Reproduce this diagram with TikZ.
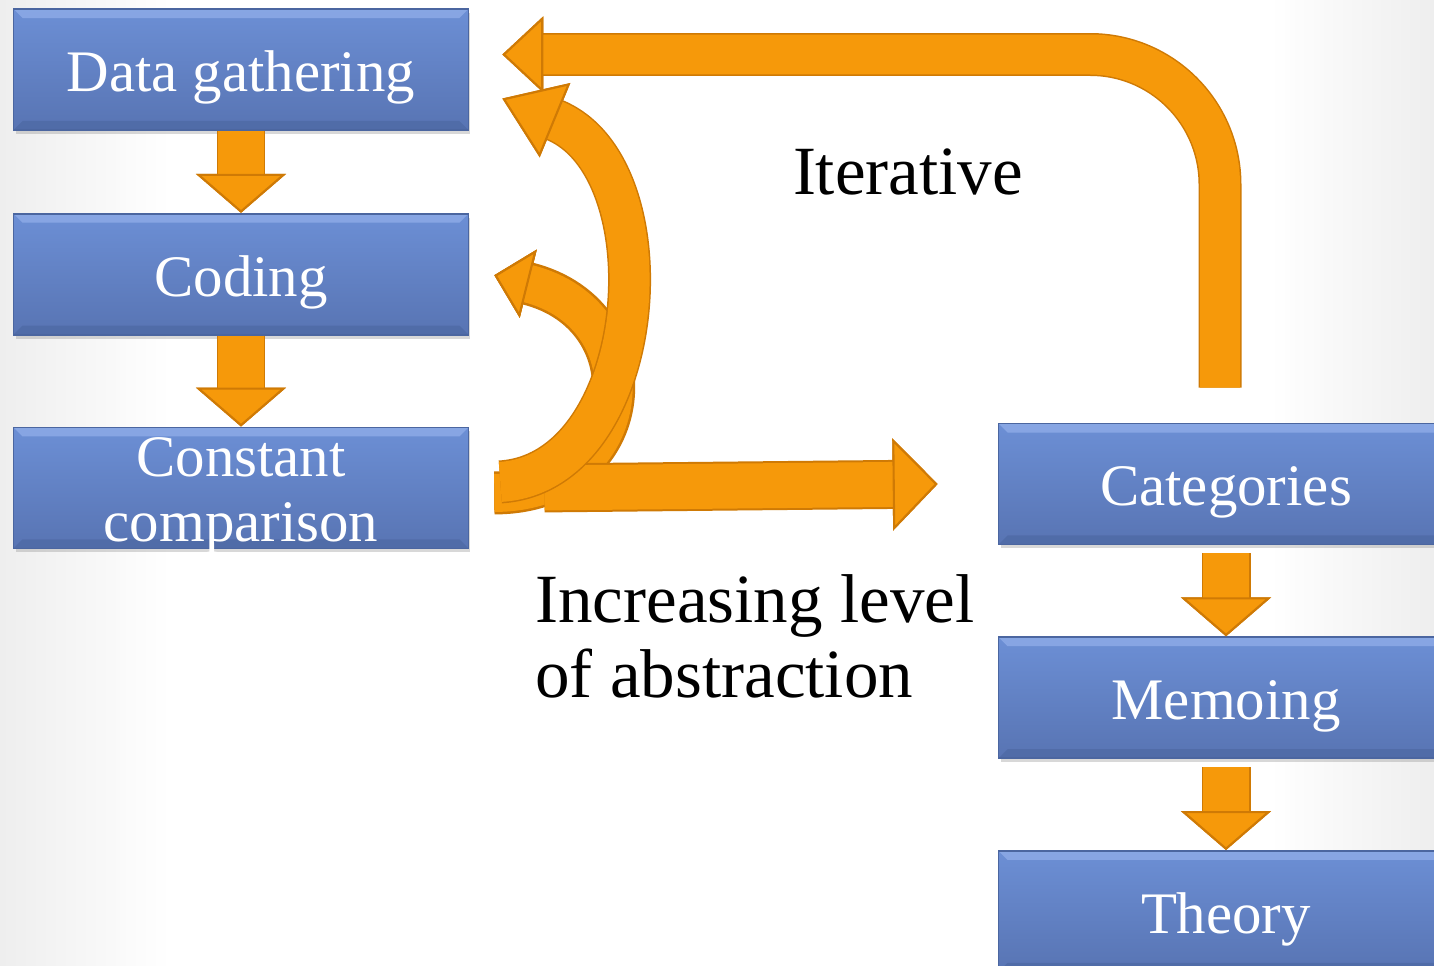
\documentclass[tikz,border=0pt]{standalone}
\usepackage{fontspec}
\setmainfont{Liberation Serif}
\usetikzlibrary{arrows.meta,positioning,calc,shadows}
\definecolor{BoxTop}{HTML}{6C8FD5}
\definecolor{BoxBottom}{HTML}{5874B3}
\definecolor{BoxEdge}{HTML}{4B66A0}
\definecolor{BoxHi}{HTML}{93B0EA}
\definecolor{Amber}{HTML}{F6990A}
\definecolor{AmberEdge}{HTML}{CF7A05}
\definecolor{Vignette}{HTML}{EEEEEE}

\begin{document}
\begin{tikzpicture}[x=0.02cm,y=-0.02cm,
    stage/.style={draw=BoxEdge,line width=1pt,top color=BoxTop,bottom color=BoxBottom,
      minimum width=9.1cm,minimum height=2.42cm,inner ysep=0pt,align=center,
      text=white,text height=30pt,text depth=5pt,font=\fontsize{33.5}{37}\selectfont,
      drop shadow={shadow xshift=0.04cm,shadow yshift=-0.08cm,opacity=0.3},
      path picture={
        \fill[BoxHi,opacity=0.7] (path picture bounding box.north west)
          -- (path picture bounding box.north east)
          -- ([xshift=-0.18cm,yshift=-0.18cm]path picture bounding box.north east)
          -- ([xshift=0.18cm,yshift=-0.18cm]path picture bounding box.north west) -- cycle;
        \fill[BoxEdge,opacity=0.6] (path picture bounding box.south west)
          -- (path picture bounding box.south east)
          -- ([xshift=-0.18cm,yshift=0.18cm]path picture bounding box.south east)
          -- ([xshift=0.18cm,yshift=0.18cm]path picture bounding box.south west) -- cycle;
      }},
    note/.style={font=\fontsize{39.3}{42.7}\selectfont,inner sep=0pt},
    flow/.style={draw=Amber,line width=0.92cm,
      -{Triangle[width=1.8cm,length=0.78cm,line width=1.2pt,color=AmberEdge,fill=Amber]},
      preaction={draw=AmberEdge,line width=0.98cm}},
    feedback/.style={draw=Amber,line width=0.8cm,
      -{Triangle[width=1.52cm,length=0.82cm,line width=1.2pt,color=AmberEdge,fill=Amber]},
      preaction={draw=AmberEdge,line width=0.86cm}}
  ]
  % page and its soft edges
  \useasboundingbox (0,0) rectangle (1434,966);
  \fill[white] (0,0) rectangle (1434,966);
  \shade[left color=Vignette,right color=white] (0,0) rectangle (170,966);
  \shade[left color=white,right color=Vignette] (1270,0) rectangle (1434,966);

  % left column
  \node[stage] (dg) at (241,69.5) {Data gathering};
  \node[stage,below=1.64cm of dg] (cod) {Coding};
  \node[stage,below=1.82cm of cod,text height=62pt,text depth=1pt] (cc) {Constant\\comparison};

  % right column
  \node[stage] (cat) at (1226,484) {Categories};
  \node[stage,below=1.82cm of cat] (memo) {Memoing};
  \node[stage,below=1.82cm of memo] (theory) {Theory};

  \draw[flow] (dg) -- (cod);
  \draw[flow] (cod) -- (cc);
  \draw[flow,shorten <=0.16cm] (cat) -- (memo);
  \draw[flow,shorten <=0.16cm] (memo) -- (theory);

  % loops back
  \draw[feedback,rounded corners=2.6cm] ($(cat.north)+(-6,-35)$) |- ($(dg.east)+(33,-15)$);
  \draw[feedback,line width=0.76cm,preaction={draw=AmberEdge,line width=0.82cm},
    -{Triangle[width=1.4cm,length=0.7cm,line width=1.2pt,color=AmberEdge,fill=Amber]}]
    ($(cc.east)+(25,5)$) .. controls +(145,0) and +(160,40) .. ($(cod.east)+(25,1)$);
  \draw[flow,line width=0.9cm,
    -{Triangle[width=1.84cm,length=0.9cm,line width=1.2pt,color=AmberEdge,fill=Amber]}]
    ($(cc.east)+(75,0)$) -- ($(cat.west)+(-60,0)$);
  \draw[feedback,
    -{Triangle[width=1.6cm,length=1.14cm,line width=1.2pt,color=AmberEdge,fill=Amber]}]
    ($(cc.east)+(31,-6)$) .. controls +(149,-9) and +(170,70) .. ($(dg.east)+(33,29)$);

  \node[note] (iter) at (908,172) {Iterative};
  \node[note,anchor=north west,align=left] (abstr) at (535,574) {Increasing level\\of abstraction};
\end{tikzpicture}
\end{document}
